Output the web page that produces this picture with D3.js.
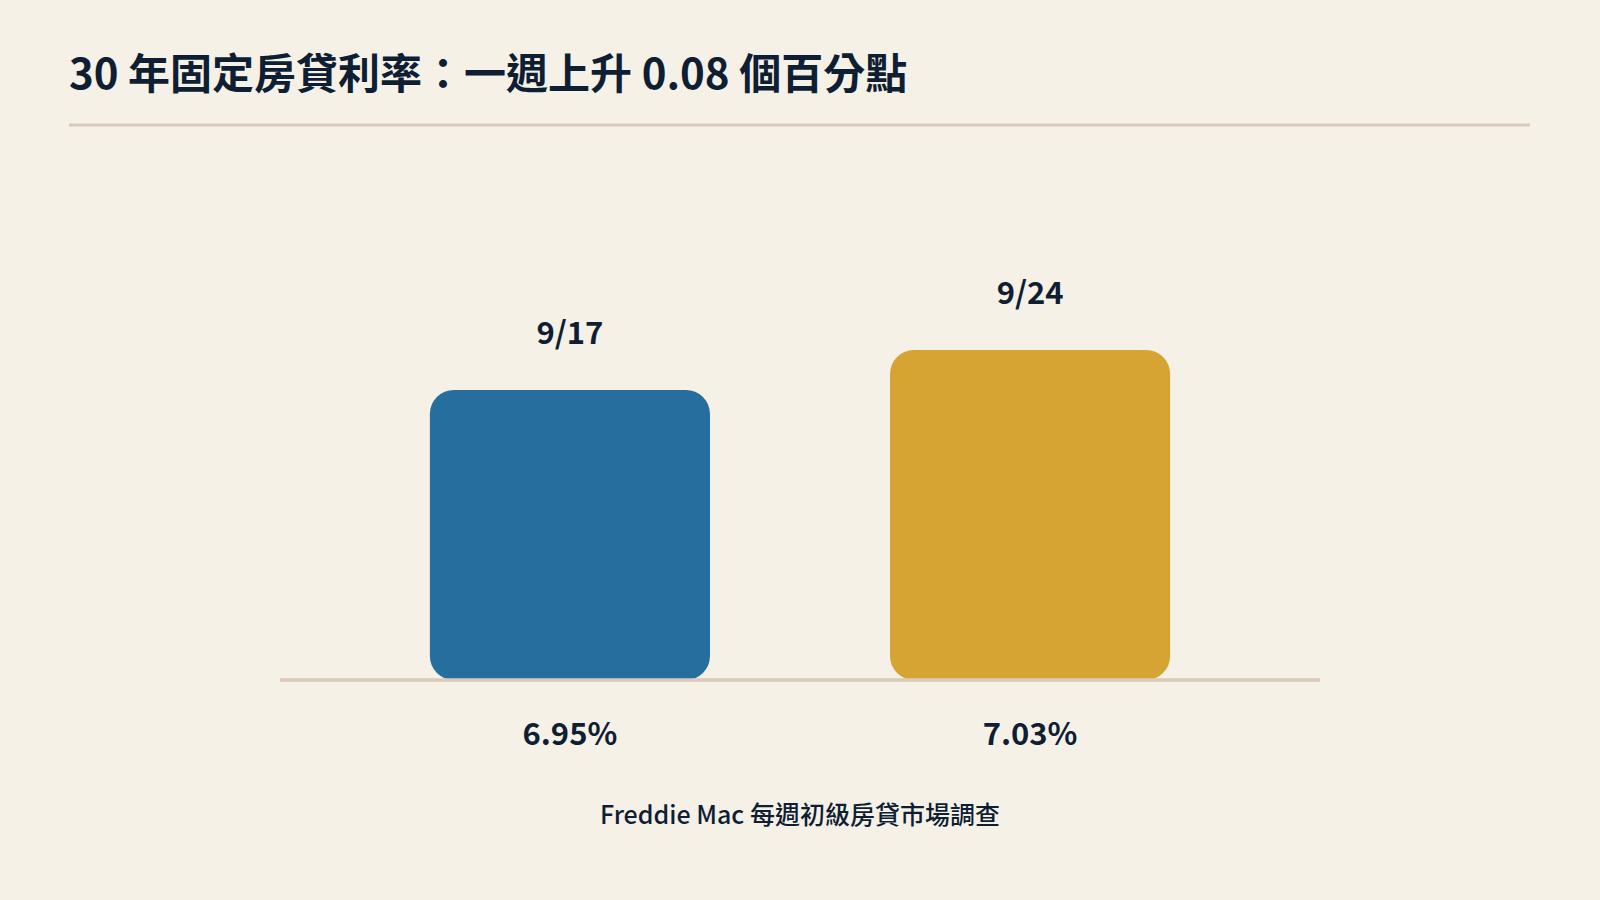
<!DOCTYPE html>
<html>
<head>
<meta charset="utf-8">
<script src="https://cdn.jsdelivr.net/npm/d3@7"></script>
<style>
  html, body { margin: 0; padding: 0; background: #f6f1e7; }
  svg { display: block; font-family: "Noto Sans CJK TC", "Noto Sans", sans-serif; }
</style>
</head>
<body>
<svg id="chart" width="1600" height="900"></svg>
<script>
const title = "30 年固定房貸利率：一週上升 0.08 個百分點";
const source = "Freddie Mac 每週初級房貸市場調查";
const categories = ["9/17", "9/24"];
const values = [6.95, 7.03];
const valueLabels = ["6.95%", "7.03%"];
const colors = ["#266e9e", "#d5a433"];

const svg = d3.select("#chart");
const W = 1600, H = 900;
const textColor = "#0e1e33";
const lineColor = "#dacabb";

svg.append("rect").attr("width", W).attr("height", H).attr("fill", "#f6f1e7");

// Title
svg.append("text")
  .attr("x", 69).attr("y", 89)
  .attr("font-size", 42).attr("font-weight", 700)
  .attr("fill", textColor)
  .text(title);

svg.append("line")
  .attr("x1", 69).attr("x2", 1530)
  .attr("y1", 125).attr("y2", 125)
  .attr("stroke", lineColor).attr("stroke-width", 3);

// Scales
const baseY = 680;
const x = d3.scaleBand().domain(categories).range([280, 1320])
  .paddingInner(0.3913).paddingOuter(0.3257);
const y = d3.scaleLinear().domain([6.37, 7.1]).range([baseY, baseY - 500 * 0.73]);

const data = categories.map((c, i) => ({ c, v: values[i], label: valueLabels[i], color: colors[i] }));

const g = svg.append("g");

g.selectAll("rect.bar").data(data).join("rect")
  .attr("class", "bar")
  .attr("x", d => x(d.c))
  .attr("y", d => y(d.v))
  .attr("width", x.bandwidth())
  .attr("height", d => baseY - y(d.v))
  .attr("rx", 24).attr("ry", 24)
  .attr("fill", d => d.color);

// Baseline
g.append("line")
  .attr("x1", x.range()[0]).attr("x2", x.range()[1])
  .attr("y1", baseY).attr("y2", baseY)
  .attr("stroke", lineColor).attr("stroke-width", 3.5);

// Date labels above bars
g.selectAll("text.cat").data(data).join("text")
  .attr("class", "cat")
  .attr("x", d => x(d.c) + x.bandwidth() / 2)
  .attr("y", d => y(d.v) - 46)
  .attr("text-anchor", "middle")
  .attr("font-size", 31).attr("font-weight", 700)
  .attr("fill", textColor)
  .text(d => d.c);

// Value labels below baseline
g.selectAll("text.val").data(data).join("text")
  .attr("class", "val")
  .attr("x", d => x(d.c) + x.bandwidth() / 2)
  .attr("y", 745)
  .attr("text-anchor", "middle")
  .attr("font-size", 31).attr("font-weight", 700)
  .attr("fill", textColor)
  .text(d => d.label);

// Source
svg.append("text")
  .attr("x", 800).attr("y", 824)
  .attr("text-anchor", "middle")
  .attr("font-size", 25).attr("font-weight", 500)
  .attr("fill", textColor)
  .text(source);
</script>
</body>
</html>
